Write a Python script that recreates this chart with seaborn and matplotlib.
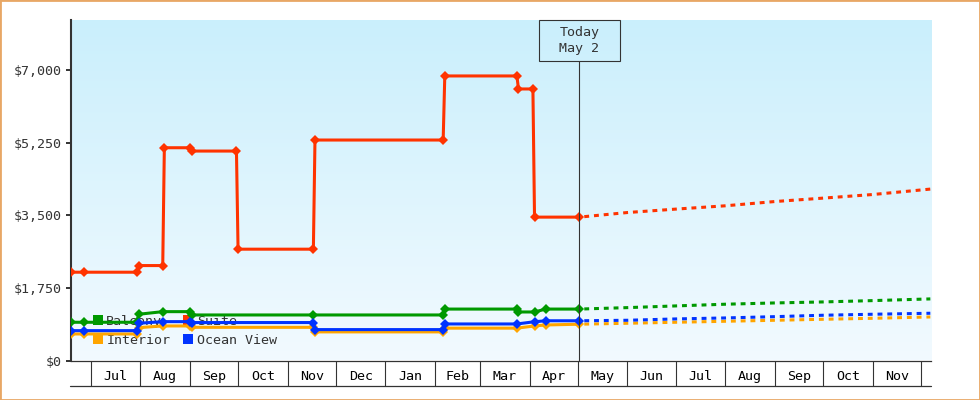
import numpy as np
import pandas as pd
import matplotlib
matplotlib.use("Agg")
import matplotlib.pyplot as plt
import matplotlib.dates as mdates
import matplotlib.ticker as mticker
import matplotlib.transforms as mtransforms
from matplotlib.lines import Line2D
from matplotlib.patches import Rectangle
from matplotlib.colors import LinearSegmentedColormap
import seaborn as sns

# ---------------- data ----------------
CABINS = ["Balcony", "Suite", "Interior", "Ocean View"]
COLORS = ["#009900", "#FF3300", "#FFA500", "#0033FF"]

SUITE_DATES = ["2022-06-19", "2022-06-27", "2022-07-30", "2022-07-31", "2022-08-15",
               "2022-08-16", "2022-09-01", "2022-09-02", "2022-09-30", "2022-10-01",
               "2022-11-17", "2022-11-18", "2023-02-06", "2023-02-07", "2023-03-24",
               "2023-03-25", "2023-04-03", "2023-04-04", "2023-05-02"]
SUITE_PRICES = [2129, 2129, 2129, 2289, 2289, 5130, 5130, 5050, 5050, 2684,
                2684, 5316, 5316, 6861, 6861, 6547, 6547, 3457, 3457]

BALCONY_DATES = ["2022-06-19", "2022-06-27", "2022-07-30", "2022-07-31", "2022-08-15",
                 "2022-09-01", "2022-09-02", "2022-11-17", "2023-02-06", "2023-02-07",
                 "2023-03-24", "2023-03-25", "2023-04-04", "2023-04-11", "2023-05-02"]
BALCONY_PRICES = [922, 922, 922, 1115, 1178, 1178, 1098, 1098, 1098, 1240,
                  1240, 1170, 1170, 1240, 1240]

OTHER_DATES = ["2022-06-19", "2022-06-27", "2022-07-30", "2022-07-31", "2022-08-15",
               "2022-09-01", "2022-09-02", "2022-11-17", "2022-11-18", "2023-02-06",
               "2023-02-07", "2023-03-24", "2023-04-04", "2023-04-11", "2023-05-02"]
INTERIOR_PRICES = [640, 640, 640, 792, 833, 833, 800, 800, 690, 690,
                   780, 780, 833, 857, 875]
OCEAN_PRICES = [720, 720, 720, 898, 937, 937, 915, 915, 745, 745,
                881, 881, 935, 958, 958]

FORECAST_DATES = ["2023-05-02", "2023-06-01", "2023-07-01", "2023-08-01",
                  "2023-09-01", "2023-10-01", "2023-11-01", "2023-12-07"]
FC_BALCONY = [1240, 1275, 1316, 1357, 1388, 1412, 1444, 1485]
FC_SUITE = [3457, 3568, 3650, 3730, 3833, 3915, 4002, 4133]
FC_INTERIOR = [875, 898, 922, 946, 970, 994, 1018, 1050]
FC_OCEAN = [958, 970, 1002, 1026, 1057, 1091, 1115, 1139]

TODAY = "2023-05-02"
TODAY_LABEL = "Today\nMay 2"
MONTH_LABELS = ["Jul", "Aug", "Sep", "Oct", "Nov", "Dec", "Jan", "Feb", "Mar",
                "Apr", "May", "Jun", "Jul", "Aug", "Sep", "Oct", "Nov"]
FIRST_MONTH = "2022-07-01"
Y_TICKS = [0, 1750, 3500, 5250, 7000]
X_RANGE = ["2022-06-18 18:00", "2023-12-07 10:00"]
Y_RANGE = [0, 8210]
LEGEND_ORDER = ["Balcony", "Interior", "Suite", "Ocean View"]

# ---------------- frames ----------------
hist = pd.concat([
    pd.DataFrame({"date": pd.to_datetime(BALCONY_DATES), "price": BALCONY_PRICES, "cabin": "Balcony"}),
    pd.DataFrame({"date": pd.to_datetime(SUITE_DATES), "price": SUITE_PRICES, "cabin": "Suite"}),
    pd.DataFrame({"date": pd.to_datetime(OTHER_DATES), "price": INTERIOR_PRICES, "cabin": "Interior"}),
    pd.DataFrame({"date": pd.to_datetime(OTHER_DATES), "price": OCEAN_PRICES, "cabin": "Ocean View"}),
], ignore_index=True)
fdates = pd.to_datetime(FORECAST_DATES)
fc = pd.concat([
    pd.DataFrame({"date": fdates, "price": v, "cabin": c})
    for c, v in zip(CABINS, [FC_BALCONY, FC_SUITE, FC_INTERIOR, FC_OCEAN])
], ignore_index=True)
palette = dict(zip(CABINS, COLORS))

# ---------------- style ----------------
sns.set_style("white")
plt.rcParams["font.family"] = ["DejaVu Sans Mono", "DejaVu Sans"]
FS = 9.6
DARK = "#333333"

W, H = 980, 400
fig = plt.figure(figsize=(W / 100, H / 100), dpi=100)
L, R, T, B = 71, 931, 20, 360.5
rect = [L / W, (H - B) / H, (R - L) / W, (B - T) / H]

# gradient background
bg = fig.add_axes(rect, zorder=0)
cmap = LinearSegmentedColormap.from_list("bg", ["#F2FAFF", "#CAEFFC"])
bg.imshow(np.linspace(0, 1, 256).reshape(-1, 1), aspect="auto", cmap=cmap,
          origin="lower", extent=[0, 1, 0, 1])
bg.set_axis_off()

ax = fig.add_axes(rect, zorder=1)
ax.set_facecolor("none")

sns.lineplot(data=hist, x="date", y="price", hue="cabin", hue_order=CABINS,
             palette=palette, estimator=None, marker="D", markersize=5.0,
             markeredgewidth=0, linewidth=2.2, legend=False, ax=ax, zorder=3)
sns.lineplot(data=fc, x="date", y="price", hue="cabin", hue_order=CABINS,
             palette=palette, estimator=None, linewidth=2.2,
             linestyle=(1.6, (1.6, 1.6)), legend=False, ax=ax, zorder=3)

ax.set_xlim(pd.Timestamp(X_RANGE[0]), pd.Timestamp(X_RANGE[1]))
ax.set_ylim(*Y_RANGE)
ax.set_xlabel("")
ax.set_ylabel("")

# y axis
ax.yaxis.set_major_locator(mticker.FixedLocator(Y_TICKS))
ax.yaxis.set_major_formatter(mticker.FuncFormatter(lambda v, p: f"${v:,.0f}"))
ax.tick_params(axis="y", left=True, length=3.6, width=1.4, color=DARK,
               labelsize=FS, labelcolor=DARK, pad=3)

# x axis: month cells
month_starts = pd.date_range(FIRST_MONTH, periods=len(MONTH_LABELS) + 1, freq="MS")
starts_num = mdates.date2num(month_starts)
mids = (starts_num[:-1] + starts_num[1:]) / 2
ax.xaxis.set_major_locator(mticker.FixedLocator(starts_num))
ax.xaxis.set_major_formatter(mticker.NullFormatter())
ax.xaxis.set_minor_locator(mticker.FixedLocator(mids))
ax.xaxis.set_minor_formatter(mticker.FixedFormatter(MONTH_LABELS))
ax.tick_params(axis="x", which="major", bottom=True, direction="out", length=18,
               width=0.8, color=DARK)
ax.tick_params(axis="x", which="minor", bottom=True, length=0, labelsize=FS,
               labelcolor="black", pad=7)
band_y = -25 / (B - T)
ax.add_line(Line2D([-1 / (R - L), 1], [band_y, band_y], transform=ax.transAxes,
                   color=DARK, lw=0.9, clip_on=False))

for s in ["top", "right"]:
    ax.spines[s].set_visible(False)
ax.spines["left"].set_color(DARK)
ax.spines["left"].set_linewidth(1.5)
ax.spines["bottom"].set_color(DARK)
ax.spines["bottom"].set_linewidth(0.9)

# today marker
today = pd.Timestamp(TODAY)
tnum = mdates.date2num(today)
box_bottom = (B - 60.5) / (B - T)
days_span = mdates.date2num(pd.Timestamp(X_RANGE[1])) - mdates.date2num(pd.Timestamp(X_RANGE[0]))
half_w = 40.3 * days_span / (R - L)
ax.axvline(today, ymin=0, ymax=box_bottom, color=DARK, lw=0.8, zorder=4)
blend = mtransforms.blended_transform_factory(ax.transData, ax.transAxes)
ax.add_patch(Rectangle((tnum - half_w, box_bottom), 2 * half_w, 1 - box_bottom,
                       transform=blend, fill=False, edgecolor=DARK, lw=0.8,
                       clip_on=False, zorder=4))
ax.text(tnum, (box_bottom + 1) / 2, TODAY_LABEL, transform=blend, ha="center",
        va="center", fontsize=FS, color=DARK, linespacing=1.3, zorder=4)

# legend
color_of = dict(zip(CABINS, COLORS))
handles = [Line2D([], [], marker="s", linestyle="", color=color_of[c], markersize=7.4,
                  markeredgewidth=0) for c in LEGEND_ORDER]
leg = ax.legend(handles, LEGEND_ORDER, ncol=2, loc="upper left",
                bbox_to_anchor=(91.0 / W, 1 - 315 / H), bbox_transform=fig.transFigure,
                frameon=False, fontsize=FS, handlelength=1.0, handletextpad=0.15,
                columnspacing=0.85, labelspacing=0.45, borderpad=0, borderaxespad=0)
for t in leg.get_texts():
    t.set_color(DARK)
leg.set_zorder(2)

# figure border
fig.add_artist(Rectangle((0, 0), 1, 1, transform=fig.transFigure, fill=False,
                         edgecolor="#E8A765", lw=2.0))

fig.savefig("out.png", dpi=100)
